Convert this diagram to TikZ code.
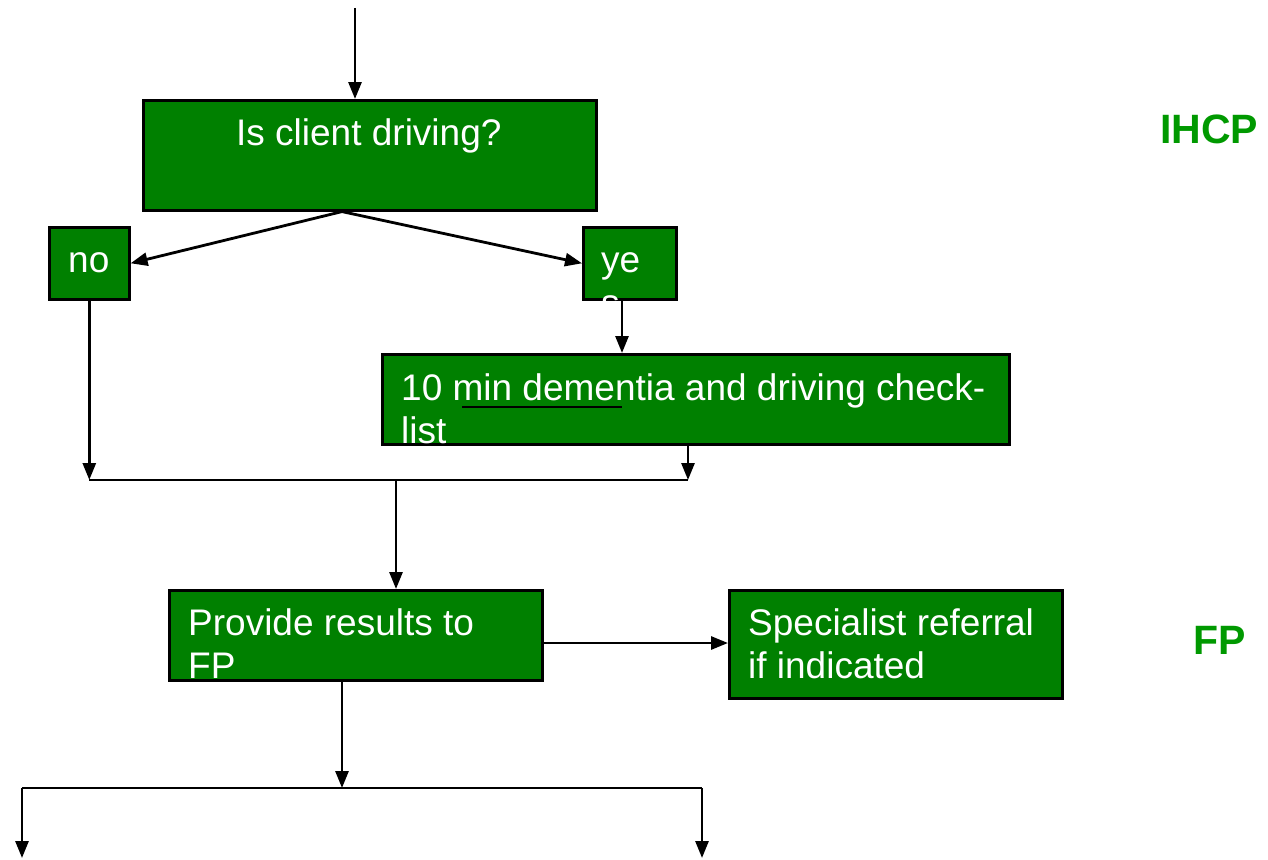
\documentclass[tikz,border=0pt]{standalone}
\usepackage{fontspec}
\setmainfont{Liberation Sans}
\usetikzlibrary{arrows.meta,calc}
\definecolor{boxgreen}{RGB}{0,128,0}
\definecolor{lblgreen}{RGB}{0,153,0}
\begin{document}
\begin{tikzpicture}[x=1pt,y=-1pt,
  box/.style={draw=black,line width=2.6pt,fill=boxgreen,rectangle,inner sep=0pt,anchor=north west},
  txt/.style={text=white,font=\fontsize{37}{43}\selectfont,inner sep=0pt,align=left,anchor=base west},
  conn/.style={line width=2.8pt,-{Triangle[length=17pt,width=13pt]}},
  plain/.style={line width=2.8pt},
  side/.style={text=lblgreen,font=\fontsize{41}{48}\selectfont\bfseries,inner sep=0pt,anchor=base west}]
\useasboundingbox (0,0) rectangle (1268,859);
% boxes
\node[box,minimum width=453,minimum height=110] (q) at (142,99) {};
\node[box,minimum width=80,minimum height=72] (no) at (48,226) {};
\node[box,minimum width=93,minimum height=72] (yes) at (582,226) {};
\node[box,minimum width=627,minimum height=90] (chk) at (381,353) {};
\node[box,minimum width=373,minimum height=90] (res) at (168,589) {};
\node[box,minimum width=333,minimum height=108] (spec) at (728,589) {};
% texts (base anchor of a two-line node = baseline of its last line)
\node[txt] (tq) at (236,145) {Is client driving?};
\node[txt] (tno) at (68,272) {no};
\node[txt] (tyes) at (601,315) {ye\\s};
\draw[line width=2.6pt] (462,407) -- (622,407);
\node[txt] (tchk) at (401,443) {10 min dementia and driving check-\\list};
\node[txt] (tres) at (188,678) {Provide results to\\FP};
\node[txt] (tspec) at (748,678) {Specialist referral\\if indicated};
\node[side] (ihcp) at (1160,143) {IHCP};
\node[side] (fp) at (1193,654) {FP};
% coordinates
\coordinate (top) at (355,8);
\coordinate (split) at ($(q.south west)+(200,0)$);
\coordinate (jl) at (no.south |- 0,480);
\coordinate (jr) at (688,480);
\coordinate (jm) at (res.north -| 396,0);
\coordinate (jmt) at (396,480);
\coordinate (rbot) at (342,679);
\coordinate (bj) at (342,788);
\coordinate (bl) at (22,788);
\coordinate (br) at (702,788);
\coordinate (bld) at (22,858);
\coordinate (brd) at (702,858);
% connectors
\draw[conn] (top) -- (q.north -| top);
\draw[conn] (split) -- (no.east);
\draw[conn] (split) -- (yes.west);
\draw[conn] (yes.south -| 622,0) -- (chk.north -| 622,0);
\draw[conn] (no.south) -- (jl);
\draw[conn] (chk.south -| jr) -- (jr);
\draw[plain] (jl) -- (jr);
\draw[conn] (jmt) -- (jm);
\draw[conn] (res.east |- 0,643) -- (spec.west |- 0,643);
\draw[conn] (rbot) -- (bj);
\draw[plain] (bl) -- (br);
\draw[conn] (bl) -- (bld);
\draw[conn] (br) -- (brd);
\end{tikzpicture}
\end{document}
